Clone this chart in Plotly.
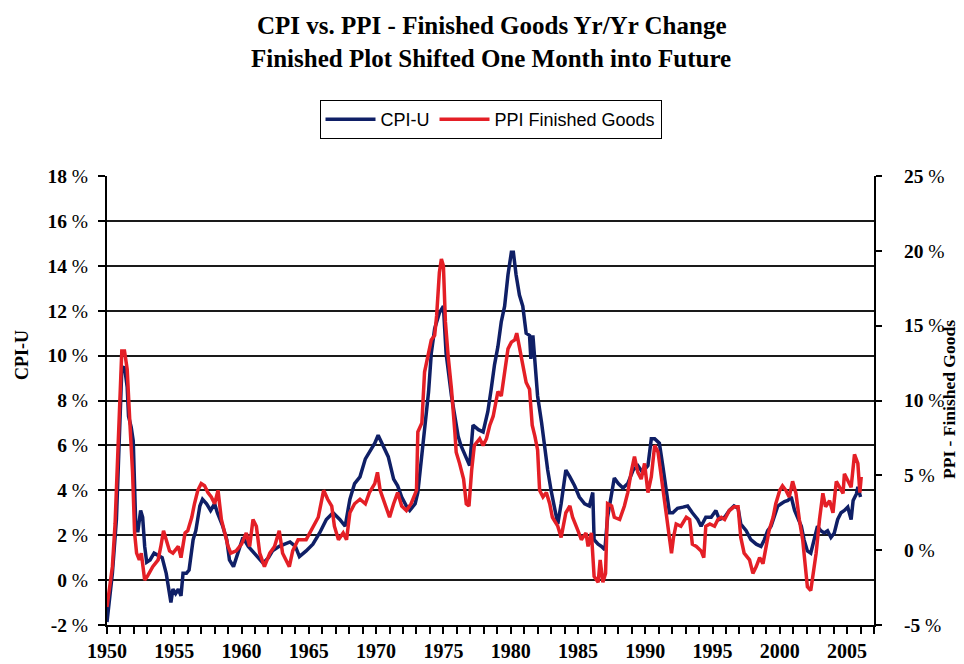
import plotly.graph_objects as go

# ---------------- data ----------------
CPI_T = [1950.0, 1950.2, 1950.4, 1950.7, 1950.8, 1951.0, 1951.1, 1951.3, 1951.5, 1951.6, 1951.8, 1951.95,
         1952.05, 1952.15, 1952.3, 1952.5, 1952.65, 1952.8, 1952.95, 1953.2, 1953.5, 1953.8, 1954.1, 1954.4,
         1954.6, 1954.75, 1954.9, 1955.1, 1955.3, 1955.5, 1955.65, 1955.9, 1956.1, 1956.4, 1956.6, 1956.9,
         1957.1, 1957.4, 1957.7, 1958.0, 1958.2, 1958.6, 1958.9, 1959.1, 1959.4, 1959.7, 1960.1, 1960.5,
         1960.8, 1961.2, 1961.6, 1962.0, 1962.3, 1962.8, 1963.3, 1963.6, 1964.0, 1964.3, 1964.8, 1965.3,
         1965.8, 1966.3, 1966.8, 1967.3, 1967.7, 1968.05, 1968.4, 1968.8, 1969.2, 1969.5, 1969.9, 1970.15,
         1970.5, 1970.9, 1971.3, 1971.6, 1971.9, 1972.25, 1972.5, 1972.9, 1973.1, 1973.4, 1973.6, 1973.9,
         1974.1, 1974.35, 1974.7, 1975.0, 1975.2, 1975.35, 1975.6, 1975.85, 1976.1, 1976.3, 1976.7, 1976.95,
         1977.2, 1977.6, 1977.95, 1978.3, 1978.55, 1978.8, 1979.05, 1979.3, 1979.55, 1979.8, 1980.05, 1980.2,
         1980.4, 1980.65, 1980.9, 1981.15, 1981.4, 1981.5, 1981.65, 1981.8, 1982.0, 1982.3, 1982.5, 1982.75,
         1983.0, 1983.3, 1983.5, 1983.75, 1984.1, 1984.4, 1984.75, 1985.1, 1985.5, 1985.85, 1986.1, 1986.2,
         1986.5, 1986.75, 1987.0, 1987.2, 1987.5, 1987.7, 1988.0, 1988.35, 1988.7, 1989.1, 1989.45, 1989.8,
         1990.2, 1990.45, 1990.7, 1991.05, 1991.3, 1991.55, 1991.8, 1992.05, 1992.4, 1992.8, 1993.15, 1993.5,
         1993.9, 1994.15, 1994.5, 1994.9, 1995.25, 1995.5, 1995.9, 1996.25, 1996.6, 1996.9, 1997.1, 1997.5,
         1997.85, 1998.25, 1998.6, 1998.85, 1999.1, 1999.35, 1999.6, 1999.85, 2000.1, 2000.35, 2000.6, 2000.85,
         2001.1, 2001.35, 2001.6, 2001.8, 2002.05, 2002.3, 2002.55, 2002.8, 2003.05, 2003.3, 2003.55, 2003.8,
         2004.05, 2004.3, 2004.55, 2004.8, 2005.05, 2005.3, 2005.45, 2005.7, 2005.8, 2006.0]
CPI_V = [-1.87, -0.6, 0.3, 2.7, 4.5, 7.0, 9.4, 9.5, 8.6, 7.3, 6.8, 6.2,
         4.5, 2.2, 2.2, 3.1, 2.8, 1.5, 0.8, 0.9, 1.2, 1.1, 1.0, 0.3,
         -0.6, -1.0, -0.4, -0.6, -0.4, -0.7, 0.3, 0.3, 0.45, 1.8, 2.2, 3.3,
         3.6, 3.4, 3.1, 3.4, 3.0, 2.4, 1.8, 0.9, 0.6, 1.2, 1.9, 1.5,
         1.3, 1.0, 0.75, 1.0, 1.3, 1.5, 1.6, 1.7, 1.5, 1.05, 1.3, 1.6,
         2.1, 2.7, 3.0, 2.7, 2.4, 3.6, 4.3, 4.6, 5.4, 5.7, 6.1, 6.45,
         6.0, 5.5, 4.5, 4.2, 3.7, 3.3, 3.1, 3.4, 3.9, 5.7, 6.9, 8.4,
         10.1, 11.2, 11.9, 12.2, 10.1, 9.25, 8.2, 7.3, 6.4, 6.0, 5.5, 5.1,
         6.9, 6.7, 6.6, 7.5, 8.5, 9.6, 10.4, 11.5, 12.2, 13.6, 14.6, 14.6,
         13.6, 12.7, 12.2, 11.0, 10.9, 9.85, 10.9, 9.7, 8.2, 7.0, 6.0, 4.9,
         4.0, 3.1, 2.5, 3.4, 4.9, 4.6, 4.2, 3.7, 3.4, 3.3, 3.9, 1.8,
         1.6, 1.5, 1.35, 2.8, 3.9, 4.55, 4.3, 4.1, 4.3, 4.9, 5.1, 4.8,
         5.1, 6.3, 6.3, 6.1, 5.1, 3.9, 3.0, 3.0, 3.2, 3.25, 3.3, 3.0,
         2.7, 2.4, 2.8, 2.8, 3.1, 2.7, 2.8, 3.1, 3.3, 3.2, 2.5, 2.2,
         1.8, 1.6, 1.5, 1.8, 2.2, 2.4, 2.8, 3.3, 3.4, 3.5, 3.55, 3.7,
         3.1, 2.7, 2.4, 1.8, 1.3, 1.2, 1.8, 2.4, 2.2, 2.1, 2.2, 1.9,
         2.1, 2.7, 3.0, 3.1, 3.25, 2.7, 3.55, 3.85, 4.15, 3.7]

PPI_T = [1950.0, 1950.2, 1950.4, 1950.6, 1950.8, 1950.95, 1951.1, 1951.3, 1951.5, 1951.7, 1951.8, 1951.9,
         1952.05, 1952.2, 1952.4, 1952.55, 1952.8, 1953.0, 1953.4, 1953.8, 1954.0, 1954.2, 1954.4, 1954.65,
         1954.9, 1955.3, 1955.5, 1955.8, 1956.0, 1956.3, 1956.5, 1956.75, 1957.0, 1957.25, 1957.5, 1957.75,
         1958.0, 1958.25, 1958.5, 1958.75, 1959.0, 1959.2, 1959.6, 1960.0, 1960.35, 1960.6, 1960.85, 1961.1,
         1961.35, 1961.7, 1962.1, 1962.45, 1962.8, 1963.05, 1963.55, 1963.8, 1964.2, 1964.8, 1965.3, 1965.7,
         1966.1, 1966.4, 1966.7, 1966.9, 1967.2, 1967.55, 1967.8, 1968.05, 1968.4, 1968.8, 1969.2, 1969.5,
         1969.9, 1970.1, 1970.3, 1970.65, 1971.0, 1971.3, 1971.6, 1971.9, 1972.25, 1972.6, 1973.0, 1973.1,
         1973.4, 1973.6, 1973.9, 1974.1, 1974.35, 1974.5, 1974.7, 1974.85, 1975.0, 1975.15, 1975.35, 1975.6,
         1975.85, 1975.95, 1976.2, 1976.5, 1976.7, 1976.9, 1977.1, 1977.3, 1977.7, 1977.95, 1978.2, 1978.45,
         1978.7, 1979.05, 1979.3, 1979.55, 1979.8, 1980.05, 1980.3, 1980.45, 1980.65, 1980.9, 1981.15, 1981.4,
         1981.6, 1981.8, 1982.0, 1982.15, 1982.4, 1982.65, 1982.9, 1983.1, 1983.5, 1983.75, 1984.1, 1984.4,
         1984.6, 1985.0, 1985.25, 1985.6, 1985.75, 1986.0, 1986.2, 1986.5, 1986.65, 1986.85, 1987.05, 1987.2,
         1987.5, 1987.7, 1988.1, 1988.45, 1988.7, 1988.95, 1989.2, 1989.45, 1989.7, 1989.95, 1990.2, 1990.45,
         1990.7, 1990.95, 1991.2, 1991.45, 1991.7, 1991.95, 1992.1, 1992.3, 1992.65, 1993.05, 1993.3, 1993.5,
         1993.8, 1994.15, 1994.35, 1994.5, 1994.8, 1995.15, 1995.4, 1995.65, 1995.9, 1996.25, 1996.6, 1996.9,
         1997.1, 1997.35, 1997.75, 1998.0, 1998.25, 1998.5, 1998.75, 1999.0, 1999.2, 1999.5, 1999.7, 2000.0,
         2000.2, 2000.45, 2000.7, 2000.95, 2001.2, 2001.45, 2001.7, 2001.9, 2002.05, 2002.3, 2002.55, 2002.7,
         2002.95, 2003.2, 2003.4, 2003.7, 2003.95, 2004.2, 2004.45, 2004.7, 2004.8, 2005.05, 2005.3, 2005.55,
         2005.8, 2005.95, 2006.05]
PPI_V = [-3.8, -2.45, -1.1, 1.75, 6.25, 10.3, 13.3, 13.3, 12.1, 8.5, 7.15, 5.2,
         1.15, -0.2, -0.65, -0.2, -2.0, -1.75, -1.1, -0.65, 0.25, 1.3, 0.7, -0.05,
         -0.2, 0.25, -0.5, 1.15, 1.3, 2.2, 3.1, 4.0, 4.45, 4.3, 3.85, 3.55,
         3.1, 4.0, 2.05, 1.15, 0.25, -0.2, -0.05, 0.4, 1.15, 0.25, 2.05, 1.6,
         -0.2, -1.1, -0.2, 0.25, 1.3, -0.2, -1.1, -0.05, 0.7, 0.7, 1.6, 2.2,
         4.0, 3.4, 2.95, 1.6, 0.7, 1.15, 0.7, 2.5, 3.1, 3.4, 3.1, 3.85,
         4.45, 5.2, 4.0, 3.1, 2.2, 3.1, 3.85, 2.95, 2.65, 3.1, 4.0, 7.9,
         8.5, 11.9, 13.15, 14.05, 14.35, 15.7, 18.55, 19.45, 19.0, 15.25, 13.0, 10.75,
         7.9, 6.55, 5.8, 4.75, 3.1, 2.95, 5.35, 7.0, 7.45, 7.0, 7.45, 8.35,
         8.95, 10.6, 10.3, 12.1, 13.45, 13.9, 14.05, 14.5, 13.6, 12.55, 11.2, 10.75,
         8.35, 7.6, 6.7, 4.0, 3.55, 3.85, 3.1, 2.2, 1.6, 0.85, 2.5, 2.95,
         2.2, 1.3, 0.7, 1.15, 0.25, 1.15, -1.75, -2.15, -0.65, -2.15, -1.55, 3.1,
         2.95, 2.2, 2.05, 2.95, 3.85, 5.2, 6.25, 5.2, 4.75, 5.8, 3.85, 4.9,
         7.0, 6.55, 4.75, 3.1, 1.15, -0.2, 0.85, 1.75, 1.6, 2.2, 2.05, 0.4,
         0.25, -0.05, -0.5, 1.6, 1.75, 1.6, 2.05, 2.2, 2.05, 2.65, 2.9, 2.9,
         0.85, -0.2, -0.65, -1.55, -1.1, -0.5, -0.9, 0.25, 1.3, 2.2, 3.1, 4.0,
         4.3, 4.0, 3.55, 4.6, 3.8, 2.05, 0.7, -1.1, -2.45, -2.7, -1.1, -0.2,
         2.05, 3.8, 2.9, 3.3, 2.5, 4.6, 4.2, 3.8, 5.1, 4.6, 4.2, 6.4,
         5.8, 3.85, 4.9]

X_TICKS = [1950, 1955, 1960, 1965, 1970, 1975, 1980, 1985, 1990, 1995, 2000, 2005]
LEFT_TICKS = [-2, 0, 2, 4, 6, 8, 10, 12, 14, 16, 18]
RIGHT_TICKS = [-5, 0, 5, 10, 15, 20, 25]

TITLE_1 = "CPI vs. PPI - Finished Goods Yr/Yr Change"
TITLE_2 = "Finished Plot Shifted One Month into Future"

# ---------------- figure ----------------
SERIF = "Liberation Serif, Times New Roman, serif"
SANS = "Liberation Sans, Arial, sans-serif"
NAVY = "#0f1f66"
RED = "#e41f26"

# the page body has an 8px default margin, so the figure is drawn 8px in
OFF = 8
FIG_W, FIG_H = 964 - OFF, 664 - OFF
PLOT_L, PLOT_R, PLOT_T, PLOT_B = 107 - OFF, 874 - OFF, 176 - OFF, 625 - OFF
PW, PH = PLOT_R - PLOT_L, PLOT_B - PLOT_T


def px(xp):
    return (xp - OFF - PLOT_L) / PW


def py(yp):
    return (PLOT_B - (yp - OFF)) / PH


fig = go.Figure()
fig.add_trace(go.Scatter(x=CPI_T, y=CPI_V, name="CPI-U", mode="lines",
                         line=dict(color=NAVY, width=3.5), yaxis="y"))
fig.add_trace(go.Scatter(x=PPI_T, y=PPI_V, name="PPI Finished Goods", mode="lines",
                         line=dict(color=RED, width=3.5), yaxis="y2"))

fig.update_layout(
    width=FIG_W, height=FIG_H,
    margin=dict(l=PLOT_L, r=FIG_W - PLOT_R, t=PLOT_T, b=FIG_H - PLOT_B, autoexpand=False),
    paper_bgcolor="white", plot_bgcolor="white",
    showlegend=True,
    hovermode=False,
    legend=dict(orientation="h", x=0.5, xanchor="center", y=py(100), yanchor="top",
                bordercolor="black", borderwidth=1, bgcolor="white",
                font=dict(family=SANS, size=18, color="black"),
                itemwidth=50, tracegroupgap=0),
    xaxis=dict(range=[1950, 2007], tickmode="array", tickvals=X_TICKS,
               ticktext=[f"<b>{t}</b>" for t in X_TICKS],
               ticks="outside", ticklen=7, tickwidth=1.5, tickcolor="black",
               minor=dict(dtick=1, ticks="outside", ticklen=7, tickwidth=1.5, tickcolor="black",
                          showgrid=False),
               showgrid=False, zeroline=False, showline=True, linecolor="black", linewidth=2,
               automargin=False,
               tickfont=dict(family=SERIF, size=20, color="black")),
    yaxis=dict(range=[-2, 18], tickmode="array", tickvals=LEFT_TICKS,
               ticktext=[f"<b>{t}</b> %" for t in LEFT_TICKS],
               ticks="outside", ticklen=7, tickwidth=1.5, tickcolor="black",
               ticklabelstandoff=6,
               showgrid=True, gridcolor="#1a1a1a", gridwidth=2, zeroline=False,
               showline=True, linecolor="black", linewidth=2, automargin=False,
               tickfont=dict(family=SERIF, size=19.5, color="black")),
    yaxis2=dict(range=[-5, 25], tickmode="array", tickvals=RIGHT_TICKS,
                ticktext=[f"<b>{t}</b> %" for t in RIGHT_TICKS],
                overlaying="y", side="right", anchor="x",
                ticks="outside", ticklen=6, tickwidth=1.5, tickcolor="black",
                ticklabelstandoff=18,
                showgrid=False, zeroline=False, showline=True, linecolor="black", linewidth=2,
                automargin=False,
                tickfont=dict(family=SERIF, size=19.5, color="black")),
    annotations=[
        dict(text=f"<b>{TITLE_1}</b>", xref="paper", yref="paper", x=px(491), y=py(26),
             showarrow=False, xanchor="center", yanchor="middle",
             font=dict(family=SERIF, size=25, color="black")),
        dict(text=f"<b>{TITLE_2}</b>", xref="paper", yref="paper", x=px(491), y=py(58),
             showarrow=False, xanchor="center", yanchor="middle",
             font=dict(family=SERIF, size=25, color="black")),
        dict(text="<b>CPI-U</b>", xref="paper", yref="paper", x=px(22), y=py(355),
             showarrow=False, xanchor="center", yanchor="middle", textangle=-90,
             font=dict(family=SERIF, size=18, color="black")),
        dict(text="<b>PPI - Finished Goods</b>", xref="paper", yref="paper", x=px(949),
             y=py(400), showarrow=False, xanchor="center", yanchor="middle", textangle=-90,
             font=dict(family=SERIF, size=17.5, color="black")),
    ],
)

fig.write_html("out.html")
